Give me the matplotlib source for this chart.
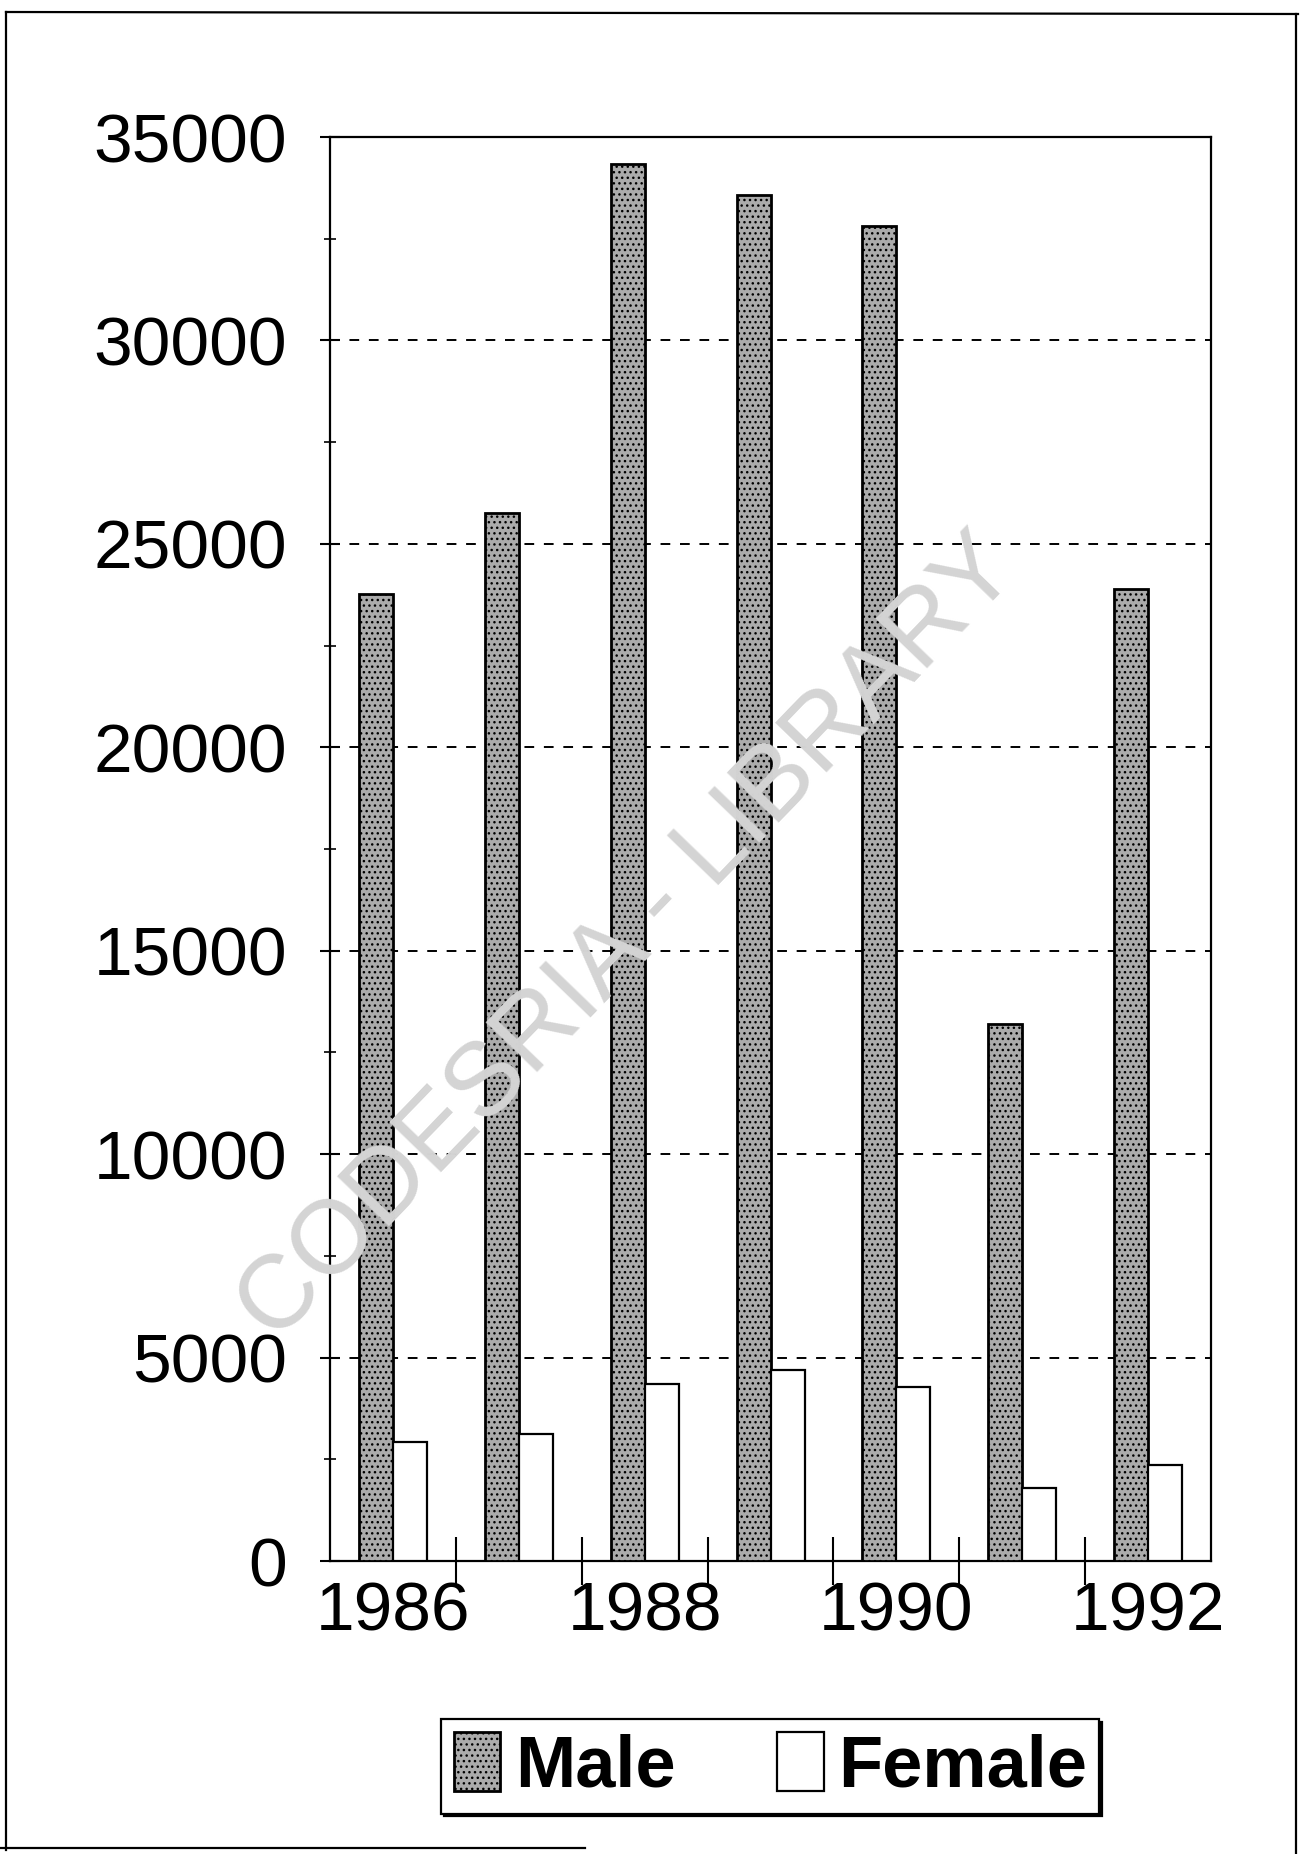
import numpy as np
import matplotlib
matplotlib.use("Agg")
import matplotlib.pyplot as plt
from matplotlib.lines import Line2D

# Annual counts by sex
years = [1986, 1987, 1988, 1989, 1990, 1991, 1992]
male = [23770, 25750, 34330, 33570, 32810, 13200, 23900]
female = [2930, 3120, 4350, 4700, 4270, 1800, 2370]
label_years = ["1986", "1988", "1990", "1992"]
y_ticks = [0, 5000, 10000, 15000, 20000, 25000, 30000, 35000]

plt.rcParams["font.family"] = ["Liberation Sans", "DejaVu Sans"]
plt.rcParams["hatch.color"] = "#3a3a3a"
plt.rcParams["hatch.linewidth"] = 1.0

W, H = 1302, 1854
fig = plt.figure(figsize=(W / 100, H / 100), dpi=100)
fig.patch.set_facecolor("white")

ax = fig.add_axes([0.2535, 0.158, 0.6766, 0.7681])

x = np.arange(len(years))
w = 0.27
ax.bar(x - w / 2, male, w, facecolor="#ababab", edgecolor="black",
       linewidth=2.0, hatch="...", label="Male", zorder=3)
ax.bar(x + w / 2, female, w, facecolor="white", edgecolor="black",
       linewidth=1.6, label="Female", zorder=3)

ax.set_xlim(-0.5, len(years) - 0.5)
ax.set_ylim(0, 35000)

# y axis
ax.set_yticks(y_ticks)
ax.set_yticklabels([str(v) for v in y_ticks])
ax.set_yticks(np.arange(2500, 35000, 5000), minor=True)
ax.tick_params(axis="y", which="major", direction="inout", length=14,
               width=1.5, labelsize=50, pad=24)
ax.tick_params(axis="y", which="minor", direction="inout", length=8, width=1.2)
ax.yaxis.grid(True, which="major", linestyle=(0, (5, 5)), color="black",
              linewidth=1.4)
ax.set_axisbelow(True)

# x axis: boundary ticks between years, labels every other year
ax.set_xticks(np.arange(0.5, len(years) - 1, 1.0))
ax.set_xticklabels([])
ax.tick_params(axis="x", which="major", direction="inout", length=34,
               width=1.5)
ax.set_xticks([0, 2, 4, 6], minor=True)
ax.set_xticklabels(label_years, minor=True)
ax.tick_params(axis="x", which="minor", length=0, labelsize=50, pad=14)

for s in ax.spines.values():
    s.set_linewidth(1.6)
    s.set_color("black")

# legend
leg = fig.legend(loc="center", bbox_to_anchor=(0.5916, 0.0472), ncol=2,
                 prop={"size": 52, "weight": "bold"}, frameon=True,
                 fancybox=False, shadow={"color": "black", "alpha": 1.0},
                 handlelength=0.65, handleheight=0.9, handletextpad=0.2,
                 columnspacing=1.4, borderpad=0.17)
leg.get_frame().set_edgecolor("black")
leg.get_frame().set_linewidth(1.6)

# diagonal watermark
fig.text(629 / W, 1 - 940 / H, "CODESRIA - LIBRARY", rotation=46,
         fontsize=75, color="#d4d4d4", ha="center", va="center",
         rotation_mode="anchor", zorder=10)

# outer page frame
def frame_line(x0, y0, x1, y1, lw=1.6):
    fig.add_artist(Line2D([x0 / W, x1 / W], [1 - y0 / H, 1 - y1 / H],
                          transform=fig.transFigure, color="black",
                          linewidth=lw))

frame_line(6, 12, 6, 1850)
frame_line(6, 12, 1298, 14)
frame_line(1296, 14, 1296, 1854)
frame_line(0, 1848, 585, 1848)

fig.savefig("out.png", dpi=100, facecolor="white")
